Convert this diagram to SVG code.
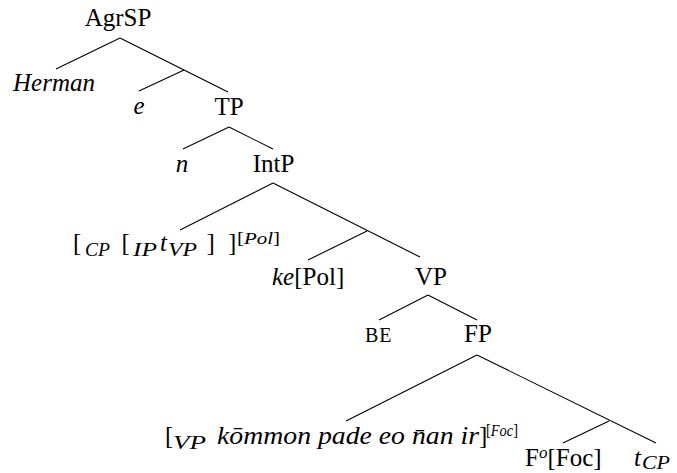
<svg xmlns="http://www.w3.org/2000/svg" width="677" height="473" viewBox="0 0 677 473" font-family="'Liberation Serif', 'DejaVu Serif', serif">
<style>
text{font-family:'Liberation Serif','DejaVu Serif',serif;font-size:25px;fill:#000}
.it{font-style:italic}
.sub{font-style:italic;font-size:18px}
.sup{font-size:17px}
.sc{font-size:20px;letter-spacing:1px}
.mid{text-anchor:middle}
#edges line{stroke:#000;stroke-width:1.1}
</style>
<rect width="677" height="473" fill="#fff"/>
<g id="edges">
<line x1="120" y1="38" x2="56" y2="69"/>
<line x1="120" y1="38" x2="228" y2="92"/>
<line x1="184" y1="70" x2="139" y2="91"/>
<line x1="229" y1="127" x2="183" y2="149"/>
<line x1="229" y1="127" x2="273" y2="149"/>
<line x1="273" y1="183" x2="180" y2="230"/>
<line x1="273" y1="183" x2="420" y2="257"/>
<line x1="367" y1="231" x2="308" y2="260"/>
<line x1="428" y1="295" x2="379" y2="320"/>
<line x1="428" y1="295" x2="477" y2="320"/>
<line x1="477" y1="355" x2="346" y2="421"/>
<line x1="477" y1="355" x2="656" y2="443"/>
<line x1="609" y1="421" x2="563" y2="443"/>
</g>
<g id="agrsp"><text class="mid" x="118" y="26">AgrSP</text></g>
<g id="herman"><text class="it" x="13" y="91">Herman</text></g>
<g id="e"><text class="it mid" x="139" y="114">e</text></g>
<g id="tp"><text class="mid" x="229" y="115">TP</text></g>
<g id="n"><text class="it mid" x="182" y="172">n</text></g>
<g id="intp"><text class="mid" x="273.5" y="172">IntP</text></g>
<g id="cp">
<text x="73" y="251">[</text>
<text class="sub" x="85" y="256" textLength="25" lengthAdjust="spacingAndGlyphs">CP</text>
<text x="121.5" y="251">[</text>
<text class="sub" x="133" y="256" textLength="24" lengthAdjust="spacingAndGlyphs">IP</text>
<text class="it" x="160" y="251">t</text>
<text class="sub" x="168" y="256" textLength="29" lengthAdjust="spacingAndGlyphs">VP</text>
<text x="206.5" y="251">]</text>
<text x="228" y="251">]</text>
<text class="sup" x="237" y="244" textLength="43" lengthAdjust="spacingAndGlyphs">[<tspan font-style="italic">Pol</tspan>]</text>
</g>
<g id="kepol"><text x="272" y="285"><tspan class="it">ke</tspan>[Pol]</text></g>
<g id="vp"><text class="mid" x="431" y="285">VP</text></g>
<g id="be"><text class="sc" x="365" y="342">BE</text></g>
<g id="fp"><text class="mid" x="478" y="342">FP</text></g>
<g id="vplabel">
<text x="165" y="444">[</text>
<text class="sub" x="173" y="449" textLength="33" lengthAdjust="spacingAndGlyphs">VP</text>
<text class="it" x="217" y="444" textLength="262" lengthAdjust="spacingAndGlyphs">kōmmon pade eo n̄an ir</text>
<text x="479" y="444">]</text>
<text class="sup" x="486" y="436" textLength="32" lengthAdjust="spacingAndGlyphs">[<tspan font-style="italic">Foc</tspan>]</text>
</g>
<g id="fo"><text x="525" y="466">F<tspan class="it" font-size="17" dy="-8">o</tspan><tspan dy="8">[Foc]</tspan></text></g>
<g id="tcp"><text class="it" x="634" y="466">t</text><text class="sub" font-size="17" x="642" y="469" textLength="28" lengthAdjust="spacingAndGlyphs">CP</text></g>
</svg>
